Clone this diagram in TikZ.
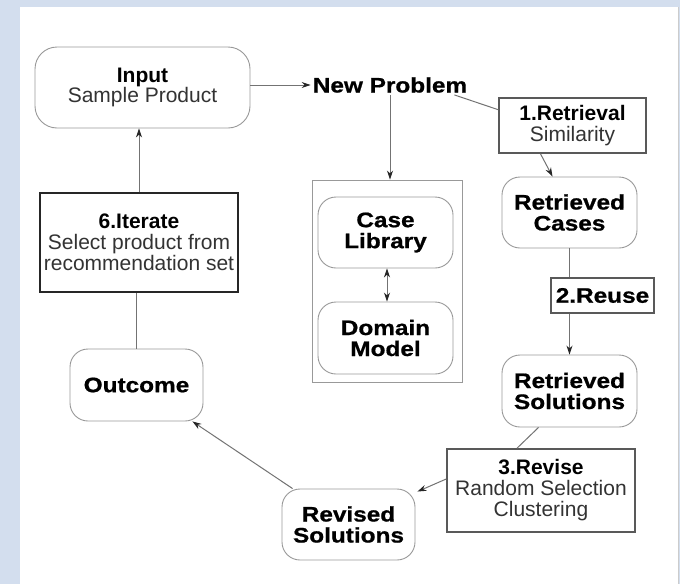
\documentclass[tikz,border=0pt]{standalone}
\usepackage{fontspec}
\setmainfont{Liberation Sans}
\newfontface\heavy[FakeStretch=1.16,FakeBold=0.8]{Liberation Sans Bold}
\usetikzlibrary{arrows.meta,calc}
\definecolor{bgblue}{HTML}{D3DEEE}
\tikzset{
  rnd/.style={draw=black!40, line width=0.9pt, rounded corners=18pt, align=center, inner sep=0pt},
  stepbox/.style={draw=black!65, line width=1.6pt, align=center, inner sep=0pt},
  conn/.style={draw=black!55, line width=1pt},
  arr/.style={conn, -{Stealth[length=9pt,width=6pt,color=black!85]}},
  darr/.style={conn, {Stealth[length=9pt,width=6pt,color=black!85]}-{Stealth[length=9pt,width=6pt,color=black!85]}},
  ttl/.style={font=\heavy},
}
\begin{document}
\begin{tikzpicture}[x=1pt,y=-1pt]
\fontsize{21pt}{21pt}\selectfont
\useasboundingbox (0,0) rectangle (680,584);
\fill[bgblue] (0,0) rectangle (680,584);
\fill[white] (20,7) rectangle (678,584);
\draw[black!20, line width=0.8pt] (678.4,7) -- (678.4,584);

% nodes
\node[rnd, rounded corners=22pt, minimum width=215pt, minimum height=81pt] (input) at (142.5,87.5)
  {\textbf{Input}\\[-1pt]{\color{black!80}Sample Product}};
\node[inner sep=2pt, font=\heavy] (np) at (390,85) {New Problem};
\node[stepbox, minimum width=147pt, minimum height=55pt] (ret) at (572.5,125.5)
  {\textbf{1.Retrieval}\\{\color{black!80}Similarity}};
\node[draw=black!40, line width=0.9pt, minimum width=150pt, minimum height=202pt, inner sep=0pt] (lib) at (387,281) {};
\node[rnd, ttl, minimum width=135pt, minimum height=71pt] (case) at (385.5,232.5) {Case\\Library};
\node[rnd, ttl, minimum width=135pt, minimum height=72pt] (dom) at (385.5,338) {Domain\\Model};
\node[rnd, ttl, minimum width=135pt, minimum height=71pt] (rcases) at (569.5,212.5) {Retrieved\\Cases};
\node[stepbox, ttl, line width=1.2pt, minimum width=103pt, minimum height=35pt] (reuse) at (602.5,295.5) {2.Reuse};
\node[rnd, ttl, minimum width=135pt, minimum height=72pt] (rsol) at (569.5,391) {Retrieved\\Solutions};
\node[stepbox, minimum width=188pt, minimum height=83pt] (revise) at (541,490.5)
  {\textbf{3.Revise}\\{\color{black!80}Random Selection}\\{\color{black!80}Clustering}};
\node[rnd, ttl, minimum width=133pt, minimum height=71pt] (rvsol) at (348.5,524.5) {Revised\\Solutions};
\node[rnd, ttl, minimum width=133pt, minimum height=72pt] (out) at (136.5,385) {Outcome};
\node[stepbox, draw=black!85, line width=2pt, minimum width=198pt, minimum height=99pt] (iter) at (139,242.5)
  {\textbf{6.Iterate}\\{\color{black!80}Select product from}\\{\color{black!80}recommendation set}};

% connectors
\draw[arr] (input.east |- np.west) -- (np.west);
\draw[arr] (np.south) -- (np.south |- lib.north);
\draw[conn] ([xshift=-15pt]np.south east) -- (ret.168);
\draw[arr] ([xshift=-32pt]ret.south) -- ([xshift=-17pt]rcases.north);
\draw[darr] ([xshift=1.5pt]case.south) -- ([xshift=1.5pt]dom.north);
\draw[conn] (rcases.south) -- (rcases.south |- reuse.north);
\draw[arr] (rsol.north |- reuse.south) -- (rsol.north);
\draw[conn] ([xshift=-31pt]rsol.south) -- ([xshift=-24pt]revise.north);
\draw[arr] ([yshift=11.5pt]revise.west) -- ([xshift=2pt,yshift=-3pt]rvsol.north east);
\draw[arr] ([xshift=11pt]rvsol.north west) -- ([xshift=-11pt]out.south east);
\draw[conn] (out.north) -- (out.north |- iter.south);
\draw[arr] (iter.north) -- (iter.north |- input.south);
\end{tikzpicture}
\end{document}
